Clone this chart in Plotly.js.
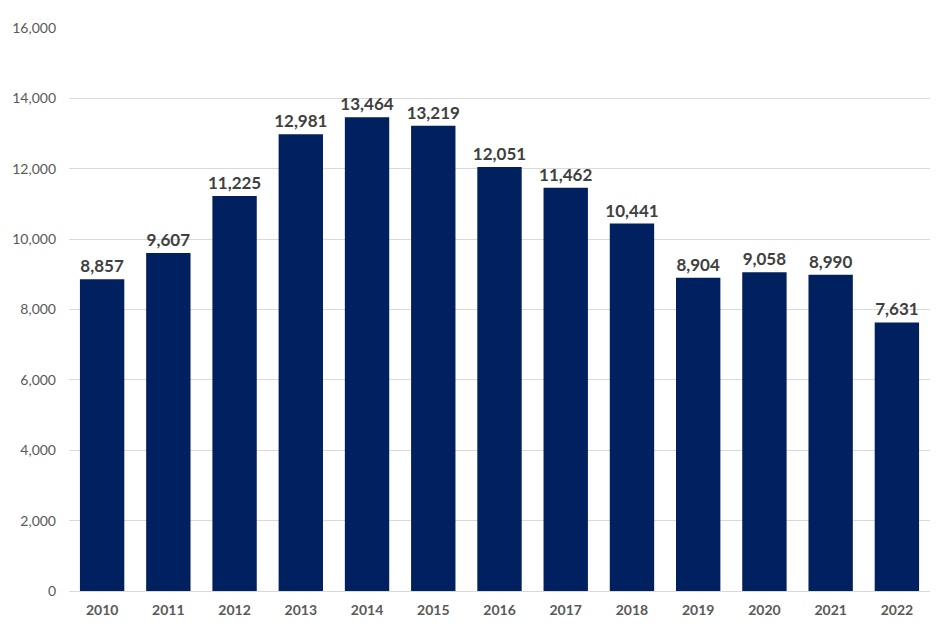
<!DOCTYPE html>
<html><head><meta charset="utf-8">
<script src="https://cdn.plot.ly/plotly-3.0.1.min.js"></script>
<style>html,body{margin:0;padding:0;background:#fff}#chart{width:936px;height:627px}</style>
</head><body><div id="chart"></div>
<script>
const years = ['2010','2011','2012','2013','2014','2015','2016','2017','2018','2019','2020','2021','2022'];
const values = [8857, 9607, 11225, 12981, 13464, 13219, 12051, 11462, 10441, 8904, 9058, 8990, 7631];
const yTicks = [0, 2000, 4000, 6000, 8000, 10000, 12000, 14000, 16000];

const trace = {
  type: 'bar', x: years, y: values,
  marker: {color: '#002060'},
  text: values.map(v => v.toLocaleString('en-US')),
  textposition: 'outside', cliponaxis: false, constraintext: 'none',
  textfont: {family: 'Lato, "Open Sans", sans-serif', size: 17, color: '#404040', weight: 'bold'},
  hoverinfo: 'none'
};
const layout = {
  width: 936, height: 627,
  margin: {l: 69, r: 6, t: 28, b: 36},
  paper_bgcolor: '#fff', plot_bgcolor: '#fff',
  bargap: 0.33, showlegend: false,
  font: {family: 'Lato, "Open Sans", sans-serif', color: '#595959'},
  xaxis: {type: 'category', showgrid: false, showline: true, linecolor: '#d9d9d9', linewidth: 1,
          ticks: '', tickfont: {size: 14, color: '#595959', weight: 'bold'}, ticklabelstandoff: 6},
  yaxis: {range: [0, 16000], tickvals: yTicks, ticktext: yTicks.map(v => v.toLocaleString('en-US')),
          showgrid: true, gridcolor: '#d9d9d9', gridwidth: 1, zeroline: false, showline: false,
          ticks: '', tickfont: {size: 14, color: '#595959'}, ticklabelstandoff: 12}
};
Plotly.newPlot('chart', [trace], layout, {displayModeBar: false, staticPlot: true});
</script></body></html>
